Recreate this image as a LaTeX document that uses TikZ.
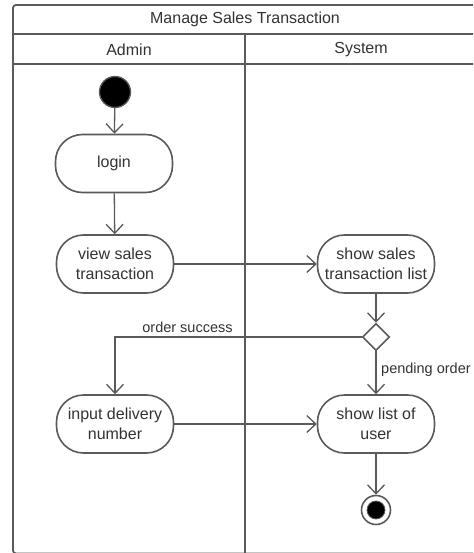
\documentclass[tikz,border=0pt]{standalone}
\usepackage{fontspec}
\setmainfont{Liberation Sans}
\usetikzlibrary{arrows.meta,shapes.geometric}
\definecolor{edge}{HTML}{5A5A5A}
\definecolor{ink}{HTML}{333333}

\begin{document}
\begin{tikzpicture}[x=1pt,y=-1pt,
  lane/.style={draw=edge,line width=1.8pt},
  header/.style={text=ink,font=\fontsize{16}{19}\selectfont,inner sep=0pt},
  activity/.style={draw=edge,line width=1.6pt,rounded corners=27pt,
    minimum width=117pt,minimum height=58pt,align=center,inner sep=1pt,
    text=ink,font=\fontsize{16}{19.5}\selectfont},
  decision/.style={draw=edge,line width=1.6pt,diamond,aspect=1,
    minimum width=27pt,minimum height=27pt,inner sep=0pt,fill=white},
  guard/.style={text=ink,font=\fontsize{14.5}{17}\selectfont,inner sep=0pt},
  flow/.style={draw=edge,line width=1.3pt,
    -{Straight Barb[length=9pt,width=17pt,line width=1.3pt]}},
  initial/.style={circle,draw=edge,line width=1.3pt,fill=black,
    minimum size=31pt,inner sep=0pt},
  final/.style={circle,draw=edge,line width=1.6pt,fill=white,
    minimum size=29pt,inner sep=0pt},
  finaldot/.style={circle,draw=edge,line width=0.8pt,fill=black,
    minimum size=18pt,inner sep=0pt}
]
\useasboundingbox (0,0) rectangle (473,553);
\clip (0,0) rectangle (473,553);
\fill[white] (0,0) rectangle (473,553);

% swimlane frame (its lower edge runs along the page bottom)
\draw[lane,rounded corners=3pt] (13,5) rectangle (477,553.5);
\draw[lane] (13,34) -- (477,34);
\draw[lane] (13,64) -- (477,64);
\draw[lane] (245,34) -- (245,553.5);

\node[header] (title) at (245,19.5) {Manage Sales Transaction};
\node[header] (admin) at (129,49.5) {Admin};
\node[header] (system) at (361,49.5) {System};

% activities
\node[initial] (start) at (115,92) {};
\node[activity] (login) at (114,163.5) {login};
\node[activity] (view) at (115,264) {view sales\\transaction};
\node[activity] (showsales) at (376,264) {show sales\\transaction list};
\node[decision] (dec) at (376,337) {};
\node[activity] (input) at (115,424) {input delivery\\number};
\node[activity] (showuser) at (376,424) {show list of\\user};
\node[final] (stop) at (376,510) {};
\node[finaldot] (stopdot) at (376,510) {};

% control flows
\draw[flow] (start) -- (login);
\draw[flow] (login) -- (view);
\draw[flow] (view) -- (showsales);
\draw[flow] (showsales) -- (dec);
\draw[flow] (dec.west) -| (input.north);
\draw[flow] (dec.south) -- (showuser.north);
\draw[flow] (input) -- (showuser);
\draw[flow] (showuser) -- (stop);

\node[guard] (success) at (187.5,327.5) {order success};
\node[guard,anchor=west] (pending) at (381,369.5) {pending order};
\end{tikzpicture}
\end{document}
